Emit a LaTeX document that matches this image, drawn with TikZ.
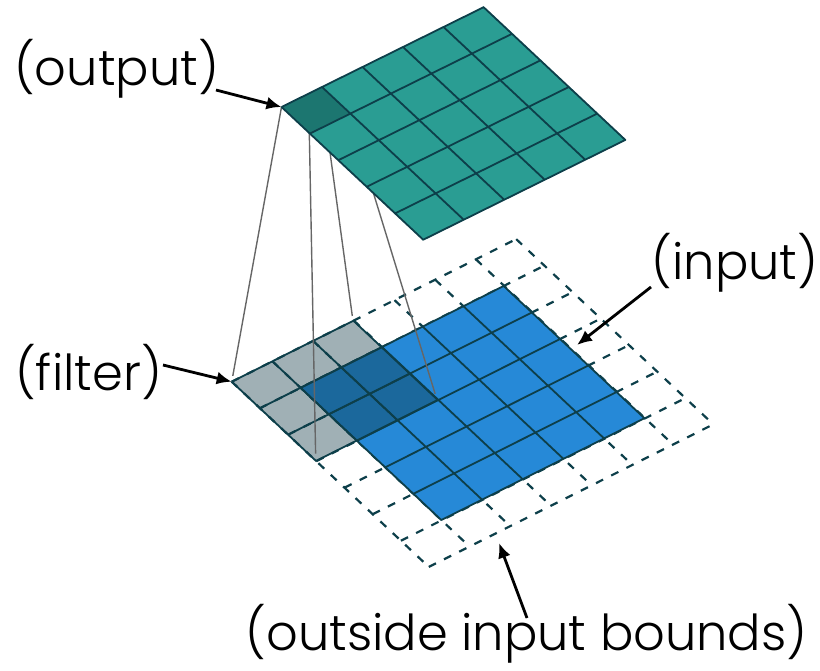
\documentclass[tikz,border=0pt]{standalone}
\usepackage{fontspec}
\setmainfont{Poppins Light}
\usetikzlibrary{arrows.meta}
\definecolor{gridcol}{HTML}{0D3F4A}
\definecolor{outcol}{HTML}{2A9D93}
\definecolor{outdark}{HTML}{1C7670}
\definecolor{incol}{HTML}{2689D7}
\definecolor{filtercol}{HTML}{0A3441}
\tikzset{
  gridline/.style={draw=gridcol, line width=1.8pt},
  dashline/.style={gridline, line width=2.2pt, dash pattern=on 8pt off 9pt},
  ray/.style={draw=black!60, line width=1.4pt},
  pointer/.style={-{Latex[length=15pt,width=13pt]}, line width=2.8pt, black},
  caption/.style={font=\fontsize{49.5}{54}\selectfont, inner sep=0pt},
}
\begin{document}
\begin{tikzpicture}[x=1pt,y=-1pt]
  \useasboundingbox (0,0) rectangle (820,670);
  % input plane
  \begin{scope}[cm={40.7,20.4,28.2,-26.5,(231.7,381.7)}, x=1pt, y=1pt]
    \draw[dashline, step=1pt] (0,0) grid (7,7);
    \fill[incol] (1,1) rectangle (6,6);
    \draw[gridline, step=1pt] (1,1) grid (6,6);
    \fill[filtercol, fill opacity=0.39] (0,0) rectangle (3,3);
    \draw[gridline, step=1pt] (0,0) grid (3,3);
    \coordinate (fleft) at (0,0);
    \coordinate (ftop) at (3,0);
    \coordinate (fbottom) at (0,3);
    \coordinate (fright) at (3,3);
  \end{scope}
  % output plane
  \begin{scope}[cm={40.5,20,28.4,-26.6,(281.5,107)}, x=1pt, y=1pt]
    \coordinate (oleft) at (0,0);
    \coordinate (otop) at (1,0);
    \coordinate (obottom) at (0,1);
    \coordinate (oright) at (1,1);
    \draw[ray] (oleft) -- (fleft);
    \draw[ray] (obottom) -- (fbottom);
    \draw[ray] (otop) -- (ftop);
    \draw[ray] (oright) -- (fright);
    \fill[outcol] (0,0) rectangle (5,5);
    \fill[outdark] (0,0) rectangle (1,1);
    \draw[gridline, step=1pt] (0,0) grid (5,5);
  \end{scope}
  % labels
  \coordinate (inmark) at (577,345);
  \coordinate (outmark) at (499,543);
  \node[caption] (output) at (116.5,69) {(output)};
  \node[caption] (filter) at (88.5,372) {(filter)};
  \node[caption] (input) at (735,263) {(input)};
  \node[caption] (bounds) at (526.5,634) {(outside input bounds)};
  \draw[pointer] (216,90) -- (oleft);
  \draw[pointer] (163,365) -- (fleft);
  \draw[pointer] (651,287) -- (inmark);
  \draw[pointer] (527,618) -- (outmark);
\end{tikzpicture}
\end{document}
